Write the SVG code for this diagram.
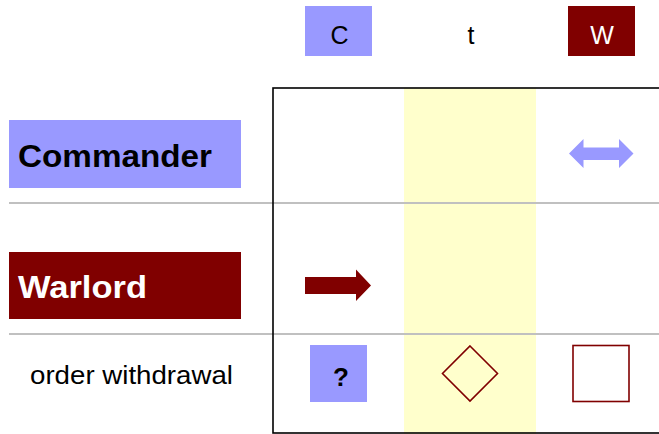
<svg xmlns="http://www.w3.org/2000/svg" width="659" height="434" viewBox="0 0 659 434">
<style>
.blue{fill:#9999ff}
.red{fill:#800000}
.sans{font-family:"Liberation Sans",Arial,sans-serif}
.big{font-size:31px;font-weight:bold}
.hdr{font-size:25px}
.sep{stroke:#c0c0c0;stroke-width:2;fill:none}
.sym{fill:none;stroke:#800000;stroke-width:1.6}
</style>
<rect width="659" height="434" fill="#ffffff"/>
<rect x="404" y="88" width="132" height="346" fill="#ffffcc"/>
<g id="separators">
<line class="sep" x1="9" y1="203" x2="659" y2="203"/>
<line class="sep" x1="9" y1="334" x2="659" y2="334"/>
</g>
<rect x="273" y="88" width="400" height="345" fill="none" stroke="#000" stroke-width="1.6"/>
<g id="hdr-c">
<rect class="blue" x="305" y="6" width="67" height="50"/>
<text class="sans hdr" x="339.5" y="44" text-anchor="middle" fill="#000">C</text>
</g>
<g id="hdr-t">
<text class="sans hdr" x="471" y="44" text-anchor="middle" fill="#000">t</text>
</g>
<g id="hdr-w">
<rect class="red" x="568" y="6" width="67" height="50"/>
<text class="sans hdr" x="602" y="44" text-anchor="middle" fill="#fff">W</text>
</g>
<g id="commander">
<rect class="blue" x="9" y="120" width="232" height="68"/>
<text class="sans big" x="18" y="167" textLength="194" lengthAdjust="spacingAndGlyphs" fill="#000">Commander</text>
</g>
<g id="warlord">
<rect class="red" x="9" y="252" width="232" height="67"/>
<text class="sans big" x="18" y="298" textLength="129" lengthAdjust="spacingAndGlyphs" fill="#fff">Warlord</text>
</g>
<g id="order-label">
<text class="sans" x="30" y="384" font-size="25" textLength="203" lengthAdjust="spacingAndGlyphs" fill="#000">order withdrawal</text>
</g>
<g id="connectors">
<polygon id="double-arrow" class="blue" points="569,153.5 583.5,139 583.5,147.5 619,147.5 619,139 633.5,153.5 619,168 619,160 583.5,160 583.5,168"/>
<polygon id="right-arrow" class="red" points="305,277 356,277 356,269.5 371,285.5 356,301 356,294 305,294"/>
</g>
<g id="question">
<rect class="blue" x="310" y="345" width="57" height="57"/>
<text class="sans" x="341" y="386" font-size="26" font-weight="bold" text-anchor="middle" fill="#000">?</text>
</g>
<g id="diamond">
<polygon class="sym" points="470,346 497.5,373.5 470,401 442.5,373.5"/>
</g>
<g id="square">
<rect class="sym" x="573" y="345.5" width="56" height="56"/>
</g>
</svg>
